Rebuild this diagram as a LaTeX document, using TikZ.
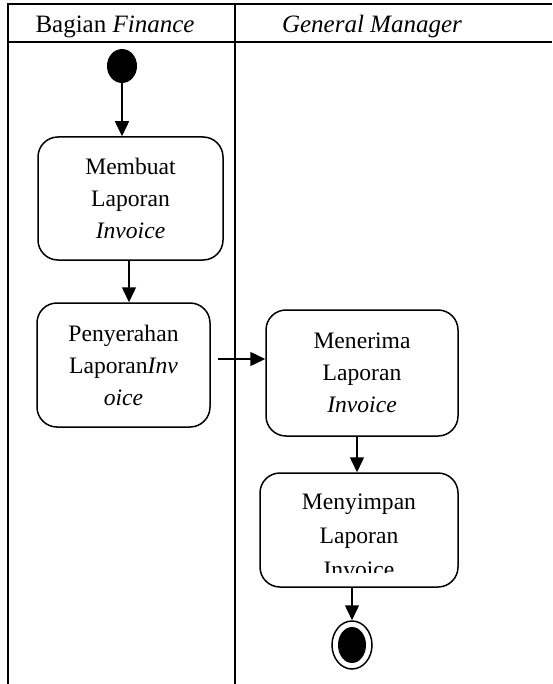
\documentclass[tikz,border=0pt]{standalone}
\usepackage{fontspec}
\setmainfont{Liberation Serif}
\usetikzlibrary{arrows.meta,shapes.geometric}
\tikzset{
  act/.style={draw, line width=1.5pt, rounded corners=20pt, align=center,
    font=\fontsize{23.6}{32}\selectfont, inner sep=0pt},
  flow/.style={line width=1.5pt, -{Triangle[length=15pt,width=14pt]}},
  grid/.style={line width=2pt},
  hdr/.style={font=\fontsize{25}{30}\selectfont, inner sep=0pt, anchor=base}
}
\begin{document}
\begin{tikzpicture}[x=1pt,y=-1pt]
\useasboundingbox (0,0) rectangle (552,684);
% table lines
\draw[grid] (8,4) -- (552,4);
\draw[grid] (8,42) -- (552,42);
\draw[grid] (8,3) -- (8,684);
\draw[grid] (235,3) -- (235,684);
\node[hdr] (h1) at (115,33) {Bagian \textit{Finance}};
\node[hdr] (h2) at (372,33) {\textit{General Manager}};
% start
\node[ellipse, fill=black, minimum width=30pt, minimum height=34pt, inner sep=0pt] (start) at (122,66) {};
% boxes
\node[act, minimum width=185pt, minimum height=123pt] (b1) at (130.5,198.5) {Membuat\\Laporan\\\textit{Invoice}};
\node[act, minimum width=173pt, minimum height=124pt] (b2) at (123.5,365) {Penyerahan\\Laporan\textit{Inv}\\\textit{oice}};
\node[act, minimum width=192pt, minimum height=126pt] (b3) at (362,373) {Menerima\\Laporan\\\textit{Invoice}};
\node[act, minimum width=198pt, minimum height=114pt] (b4) at (359,530) {};
\begin{scope}
\clip (262,474) rectangle (456,572);
\node[align=center, font=\fontsize{23.6}{34}\selectfont, inner sep=0pt] (t4) at (359,536) {Menyimpan\\Laporan\\Invoice};
\end{scope}
% end
\node[ellipse, draw, line width=1.5pt, minimum width=40pt, minimum height=48pt, inner sep=0pt] (end) at (352,645) {};
\node[ellipse, fill=black, minimum width=28pt, minimum height=36pt, inner sep=0pt] (endin) at (352,645) {};
% flows
\draw[flow] (start.south) -- (start.south |- b1.north);
\draw[flow] ([xshift=-1.5pt]b1.south) -- ([xshift=-1.5pt]b1.south |- b2.north);
\draw[flow, shorten <=7pt] (b2.east |- 0,359) -- (b3.west |- 0,359);
\draw[flow] ([xshift=-5pt]b3.south) -- ([xshift=-5pt]b3.south |- b4.north);
\draw[flow] (end.north |- b4.south) -- (end.north);
\end{tikzpicture}
\end{document}
